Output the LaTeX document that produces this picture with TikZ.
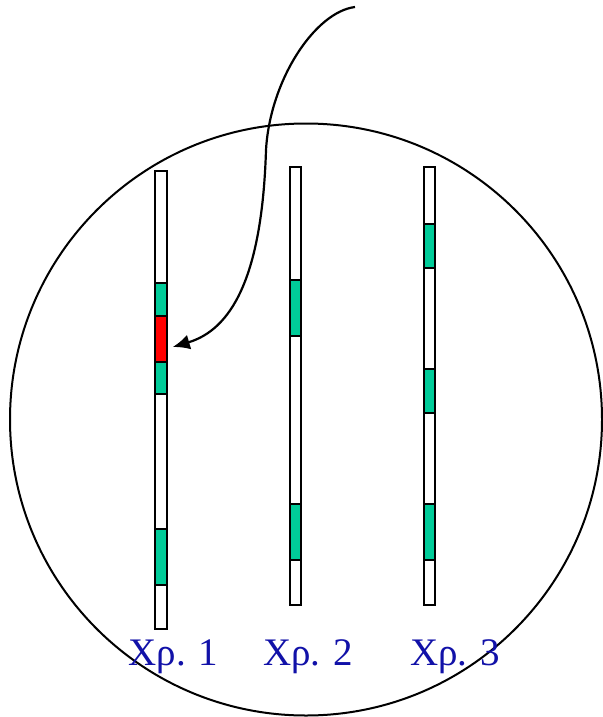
\documentclass[tikz,border=0pt]{standalone}
\usepackage{fontspec}
\setmainfont{Liberation Serif}
\usetikzlibrary{arrows.meta}
\definecolor{BandGreen}{HTML}{00CC99}
\definecolor{BandRed}{HTML}{FF0000}
\definecolor{LabelBlue}{HTML}{1111A8}

\begin{document}
\begin{tikzpicture}[
    x=1pt, y=-1pt,
    chrom/.style={
      draw,
      fill=white,
      line width=2pt,
      minimum width=11.5pt,
      minimum height=#1,
      inner sep=0pt,
      outer sep=0pt
    },
    band/.style={
      draw,
      fill=#1,
      line width=2pt,
      minimum width=11.5pt,
      inner sep=0pt,
      outer sep=0pt
    },
    chrlabel/.style={
      font=\fontsize{39}{44}\selectfont,
      text=LabelBlue,
      anchor=base
    },
    arrow/.style={
      -{Latex[length=17pt,width=15pt]},
      line width=2.2pt
    }
  ]
  \useasboundingbox (0,0) rectangle (602,717);

  \draw[line width=2pt] (306,419.5) circle (296pt);

  \node[chrom=458pt] (chr1) at (161,400)   {};
  \node[chrom=438pt] (chr2) at (295.5,386) {};
  \node[chrom=438pt] (chr3) at (429.5,386) {};

  \node[band=BandGreen, minimum height=33pt] (g1a) at (161,299.5) {};
  \node[band=BandRed,   minimum height=46pt] (red) at (161,339)   {};
  \node[band=BandGreen, minimum height=32pt] (g1b) at (161,378)   {};
  \node[band=BandGreen, minimum height=56pt] (g1c) at (161,557)   {};

  \node[band=BandGreen, minimum height=56pt] (g2a) at (295.5,308) {};
  \node[band=BandGreen, minimum height=56pt] (g2b) at (295.5,532) {};

  \node[band=BandGreen, minimum height=44pt] (g3a) at (429.5,246) {};
  \node[band=BandGreen, minimum height=44pt] (g3b) at (429.5,391) {};
  \node[band=BandGreen, minimum height=56pt] (g3c) at (429.5,532) {};

  \node[chrlabel] (lab1) at (173.5,665) {Χρ. 1};
  \node[chrlabel] (lab2) at (308,665)   {Χρ. 2};
  \node[chrlabel] (lab3) at (455,665)   {Χρ. 3};

  \coordinate (src) at (355,7);
  \draw[arrow] (src) .. controls (315,12) and (270,80) .. (266,150)
    .. controls (262,280) and (230,330) .. ([shift={(6,8)}]red.east);

\end{tikzpicture}
\end{document}
